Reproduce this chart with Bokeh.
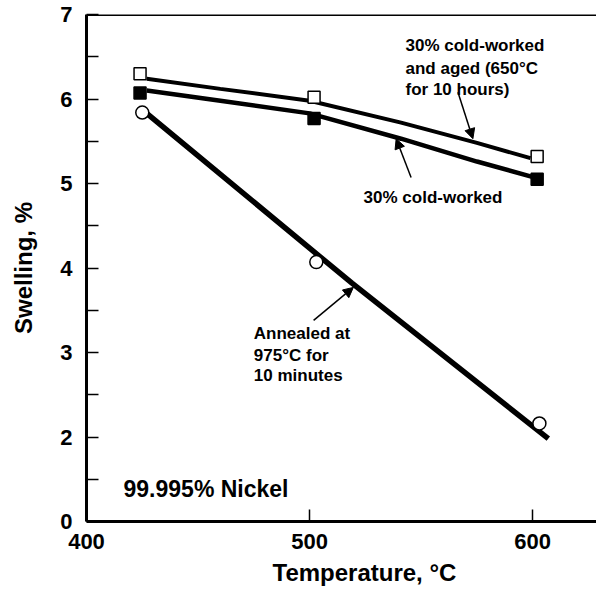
from bokeh.plotting import figure
from bokeh.models import Range1d, FixedTicker, Label, Arrow, NormalHead, Span, Title
from bokeh.embed import file_html
from bokeh.resources import INLINE

# ---- data ----
# measured points
temp_aged = [424, 502, 602]
swell_aged = [6.30, 6.02, 5.32]          # 30% cold-worked and aged (open squares)
temp_cw = [424, 502, 602]
swell_cw = [6.07, 5.77, 5.05]            # 30% cold-worked (filled squares)
temp_ann = [425, 503, 603]
swell_ann = [5.84, 4.07, 2.16]           # annealed (open circles)

# hand-drawn fit curves
fit_aged_t = [427, 460, 500, 541, 575, 599]
fit_aged_s = [6.24, 6.12, 5.98, 5.72, 5.48, 5.30]
fit_cw_t = [427, 460, 500, 541, 575, 601]
fit_cw_s = [6.10, 5.98, 5.83, 5.53, 5.26, 5.07]
fit_ann_t = [427, 519, 607]
fit_ann_s = [5.83, 3.82, 1.98]

y_ticks = [1, 2, 3, 4, 5, 6, 7]
y_tick_labels = ["0", "2", "3", "4", "5", "6", "7"]
y_minor = [1.5, 2.5, 3.5, 4.5, 5.5, 6.5]
x_ticks = [400, 500, 600]

FONT = "Liberation Sans"

p = figure(width=596, height=594,
           x_range=Range1d(400, 628.6), y_range=Range1d(1, 7),
           min_border_left=86, min_border_right=0, min_border_top=14, min_border_bottom=73,
           output_backend="svg", toolbar_location=None)
p.outline_line_color = None
p.xgrid.visible = False
p.ygrid.visible = False
p.background_fill_color = "white"
p.border_fill_color = "white"

# axes
for ax in (p.xaxis[0], p.yaxis[0]):
    ax.axis_line_width = 3
    ax.axis_line_color = "black"
    ax.major_tick_in = 12
    ax.major_tick_out = 0
    ax.major_tick_line_width = 1.5
    ax.major_tick_line_color = "black"
    ax.major_label_text_font = FONT
    ax.major_label_text_font_style = "bold"
    ax.major_label_text_font_size = "22px"
    ax.major_label_text_color = "black"

p.xaxis.ticker = FixedTicker(ticks=x_ticks)
p.xaxis.minor_tick_line_color = None
p.xaxis.major_label_standoff = 12

p.yaxis.ticker = FixedTicker(ticks=y_ticks, minor_ticks=y_minor)
p.yaxis.major_label_overrides = {t: s for t, s in zip(y_ticks, y_tick_labels)}
p.yaxis.minor_tick_in = 12
p.yaxis.minor_tick_out = 0
p.yaxis.minor_tick_line_width = 1.5
p.yaxis.minor_tick_line_color = "black"
p.yaxis.major_label_standoff = 14
p.yaxis.axis_label = "Swelling, %"
p.yaxis.axis_label_text_font = FONT
p.yaxis.axis_label_text_font_style = "bold"
p.yaxis.axis_label_text_font_size = "24px"
p.yaxis.axis_label_text_color = "black"
p.yaxis.axis_label_standoff = 20

# x-axis title, placed below the axis
p.add_layout(Title(text="Temperature, °C", align="left", offset=186,
                   text_font=FONT, text_font_style="bold", text_font_size="24px",
                   text_color="black", standoff=11), "below")

# top frame line
p.add_layout(Span(location=7, dimension="width", line_color="black", line_width=3))

# curves
p.line(fit_aged_t, fit_aged_s, line_color="black", line_width=4)
p.line(fit_cw_t, fit_cw_s, line_color="black", line_width=4.5)
p.line(fit_ann_t, fit_ann_s, line_color="black", line_width=5.5)

# markers
p.scatter(temp_aged, swell_aged, marker="square", size=12, fill_color="white",
          line_color="black", line_width=1.5)
p.scatter(temp_cw, swell_cw, marker="square", size=12, fill_color="black",
          line_color="black", line_width=1.5)
p.scatter(temp_ann, swell_ann, marker="circle", size=13, fill_color="white",
          line_color="black", line_width=1.5)

def lab(x, y, t, size="17px", align="left"):
    p.add_layout(Label(x=x, y=y, text=t, text_font=FONT, text_font_style="bold",
                       text_font_size=size, text_align=align, text_baseline="middle",
                       text_color="black"))

lab(543, 6.63, "30% cold-worked")
lab(543, 6.36, "and aged (650°C")
lab(543, 6.11, "for 10 hours)")
lab(524.2, 4.83, "30% cold-worked")
lab(475, 3.225, "Annealed at")
lab(475, 2.96, "975°C for")
lab(475, 2.73, "10  minutes")
lab(416.6, 1.39, "99.995% Nickel", size="23px")

# arrows
for xs, ys, xe, ye in [(566.5, 6.08, 573.2, 5.53),
                       (545.5, 5.07, 538.8, 5.53),
                       (501.8, 3.38, 519.6, 3.77)]:
    p.add_layout(Arrow(end=NormalHead(size=10, fill_color="black", line_color="black"),
                       x_start=xs, y_start=ys, x_end=xe, y_end=ye,
                       line_color="black", line_width=1.5))

open("out.html", "w").write(file_html(p, INLINE))
